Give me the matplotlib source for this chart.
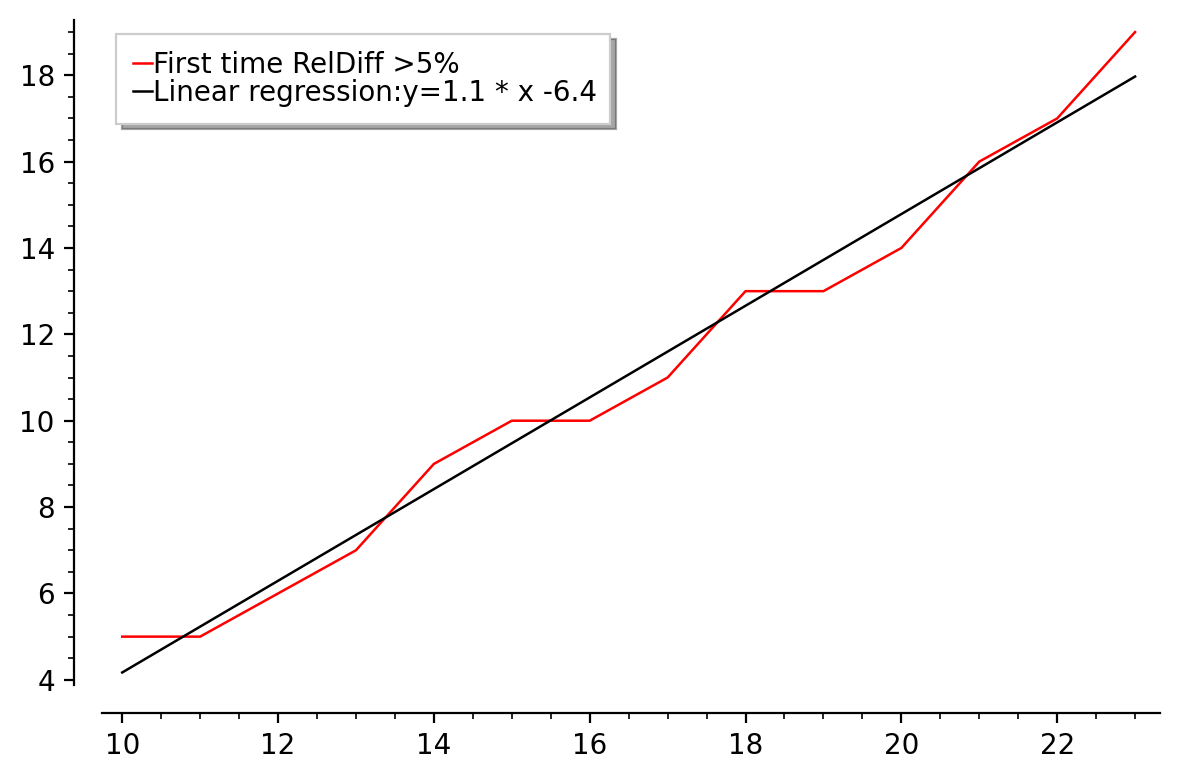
import matplotlib
matplotlib.use("Agg")
import matplotlib.pyplot as plt
from matplotlib.ticker import MultipleLocator

# data
x_vals = [10, 11, 12, 13, 14, 15, 16, 17, 18, 19, 20, 21, 22, 23]
first_time = [5, 5, 6, 7, 9, 10, 10, 11, 13, 13, 14, 16, 17, 19]
reg_x = [10, 23]
reg_y = [4.17, 17.97]

fig = plt.figure(figsize=(5.895, 3.9), dpi=200)
ax = fig.add_axes([0.0865, 0.1218, 0.8974, 0.8526])

ax.plot(x_vals, first_time, color='red', lw=0.9, label='First time RelDiff >5%')
ax.plot(reg_x, reg_y, color='black', lw=0.9, label='Linear regression:y=1.1 * x -6.4')

ax.set_xlim(9.74, 23.32)
ax.set_ylim(3.88, 19.28)

for s in ['top', 'right']:
    ax.spines[s].set_visible(False)
ax.spines['left'].set_position(('outward', 10))
ax.spines['bottom'].set_position(('outward', 10))

ax.xaxis.set_major_locator(MultipleLocator(2))
ax.xaxis.set_minor_locator(MultipleLocator(0.5))
ax.yaxis.set_major_locator(MultipleLocator(2))
ax.yaxis.set_minor_locator(MultipleLocator(0.5))
ax.tick_params(which='major', length=3.5, width=0.8, labelsize=10)
ax.tick_params(which='minor', length=2, width=0.6)

leg = ax.legend(loc='upper left', bbox_to_anchor=(0.0132, 0.0, 0.467, 0.979),
                mode='expand', fancybox=False, shadow=True, fontsize=10,
                handlelength=0.7, handletextpad=0.05, labelspacing=0.02,
                borderpad=0.6, borderaxespad=0)
leg.get_frame().set_edgecolor('#cccccc')
leg.get_frame().set_linewidth(0.8)

fig.savefig('out.png', dpi=200)
